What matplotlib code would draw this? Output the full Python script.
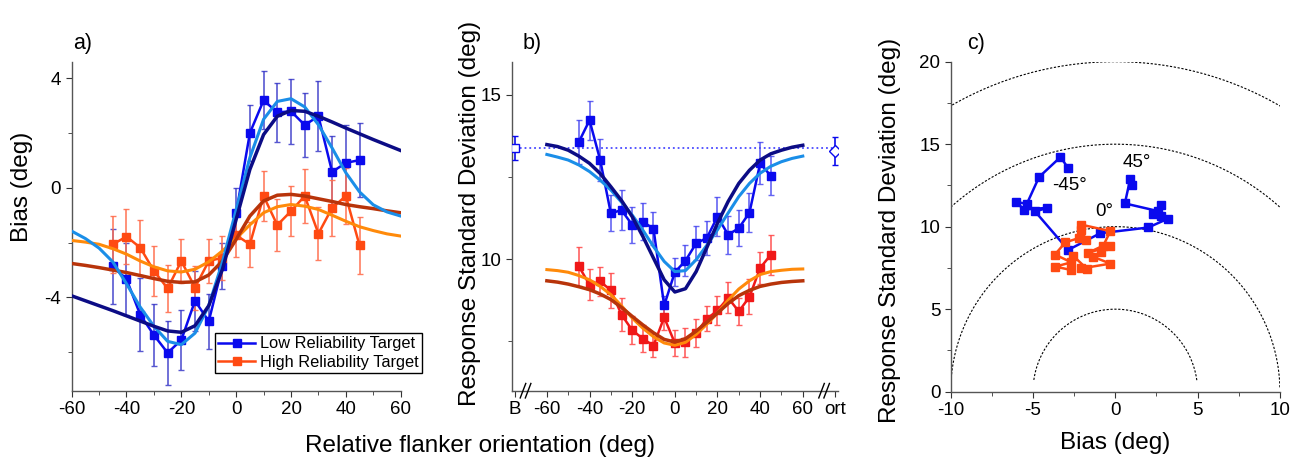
import numpy as np
import matplotlib
matplotlib.use("Agg")
import matplotlib.pyplot as plt
from matplotlib.ticker import MultipleLocator, FixedLocator
import matplotlib.transforms as mtransforms

plt.rcParams['font.family'] = ['Liberation Sans', 'DejaVu Sans']
plt.rcParams['axes.unicode_minus'] = False

# ---- data ----
orient = [-45, -40, -35, -30, -25, -20, -15, -10, -5, 0, 5, 10, 15, 20, 25, 30, 35, 40, 45]

bias_low = [-2.87, -3.33, -4.63, -5.37, -6.02, -5.55, -4.12, -4.87, -2.86, -0.92,
            2.00, 3.19, 2.75, 2.79, 2.29, 2.61, 0.58, 0.91, 1.01]
bias_low_err = [1.37, 1.3, 1.33, 1.14, 1.17, 1.1, 1.1, 1.0, 0.84, 0.9,
                1.03, 1.06, 1.08, 1.18, 1.15, 1.27, 1.3, 1.37, 1.34]
bias_high = [-2.06, -1.78, -2.18, -3.03, -3.67, -2.67, -3.64, -2.67, -2.55, -1.73,
             -2.06, -0.30, -1.36, -0.85, -0.30, -1.67, -0.73, -0.30, -2.10]
bias_high_err = [1.04, 1.0, 1.0, 0.92, 0.85, 0.82, 0.8, 0.8, 0.8, 0.8,
                 0.82, 0.9, 0.94, 0.9, 1.0, 0.98, 1.03, 1.03, 1.03]

sd_low = [13.56, 14.22, 13.01, 11.39, 11.49, 11.04, 11.14, 10.92, 8.59, 9.60,
          9.95, 10.48, 10.64, 11.29, 10.74, 10.94, 11.41, 12.91, 12.53]
sd_low_err = [0.67, 0.6, 0.65, 0.55, 0.6, 0.55, 0.57, 0.5, 0.3, 0.43,
              0.47, 0.52, 0.53, 0.6, 0.58, 0.55, 0.59, 0.64, 0.59]
sd_high = [9.78, 9.22, 9.32, 9.05, 8.31, 7.84, 7.58, 7.37, 8.23, 7.45,
           7.47, 7.76, 8.18, 8.44, 8.82, 8.41, 8.85, 9.73, 10.13]
sd_high_err = [0.6, 0.47, 0.45, 0.53, 0.5, 0.42, 0.41, 0.35, 0.38, 0.39,
               0.44, 0.43, 0.38, 0.44, 0.47, 0.41, 0.53, 0.5, 0.6]

# baseline (B) and orthogonal (ort) conditions
sd_base, sd_base_err = 13.38, 0.36
sd_ort, sd_ort_err = 13.29, 0.43

# model fits
fit_x = [-60, -55, -50, -45, -40, -35, -30, -25, -20, -15, -10, -5, 0,
         5, 10, 15, 20, 25, 30, 35, 40, 45, 50, 55, 60]
fitA_low_dark = [-3.94, -4.12, -4.30, -4.48, -4.67, -4.86, -5.05, -5.22, -5.27, -5.03, -4.30, -2.97, -1.15,
                 0.67, 1.94, 2.61, 2.82, 2.79, 2.61, 2.40, 2.18, 1.97, 1.76, 1.56, 1.36]
fitA_low_light = [-1.58, -1.85, -2.2, -2.7, -3.5, -4.35, -5.05, -5.6, -5.72, -5.3, -4.3, -2.7, -0.8,
                  1.1, 2.5, 3.15, 3.25, 2.95, 2.3, 1.45, 0.55, -0.15, -0.62, -0.88, -1.03]
fitA_high_dark = [-2.76, -2.83, -2.91, -3.0, -3.09, -3.2, -3.31, -3.41, -3.45, -3.43, -3.18, -2.67, -1.88,
                  -1.03, -0.48, -0.27, -0.24, -0.3, -0.4, -0.5, -0.61, -0.69, -0.76, -0.84, -0.91]
fitA_high_light = [-1.92, -1.98, -2.06, -2.22, -2.42, -2.67, -2.88, -3.03, -3.07, -2.97, -2.7, -2.3, -1.85,
                   -1.35, -0.91, -0.69, -0.61, -0.67, -0.79, -1.0, -1.22, -1.42, -1.56, -1.68, -1.76]

fitB_low_dark = [13.48, 13.42, 13.31, 13.13, 12.91, 12.6, 12.2, 11.78, 11.29, 10.69, 10.03, 9.37, 9.0,
                 9.1, 9.62, 10.35, 11.09, 11.75, 12.3, 12.7, 13.01, 13.2, 13.31, 13.4, 13.46]
fitB_low_light = [13.18, 13.1, 13.01, 12.86, 12.66, 12.4, 12.1, 11.73, 11.34, 10.88, 10.38, 9.93, 9.62,
                  9.65, 9.98, 10.42, 10.89, 11.4, 11.9, 12.3, 12.61, 12.82, 12.96, 13.06, 13.13]
fitB_high_dark = [9.34, 9.3, 9.24, 9.16, 9.07, 8.94, 8.77, 8.53, 8.26, 8.0, 7.76, 7.56, 7.48,
                  7.58, 7.81, 8.08, 8.36, 8.65, 8.89, 9.05, 9.17, 9.24, 9.29, 9.32, 9.34]
fitB_high_light = [9.68, 9.65, 9.6, 9.5, 9.37, 9.17, 8.92, 8.58, 8.21, 7.9, 7.64, 7.45, 7.38,
                   7.47, 7.71, 8.02, 8.36, 8.75, 9.09, 9.34, 9.53, 9.62, 9.66, 9.69, 9.7]

ring_radii = [5, 10, 15, 20]

# ---- style ----
c_low = '#0a0aee'
c_high = '#ff4a12'
c_red = '#f01818'
c_navy = '#0c0c85'
c_sky = '#1a8ee8'
c_brown = '#b8340a'
c_orange = '#ff8a0a'
fs_tick = 13.5
fs_lab = 17.5
W, H = 1303.0, 461.0

fig = plt.figure(figsize=(13.03, 4.61), dpi=100)
axA = fig.add_axes([0.055, 0.1525, 0.2525, 0.7137])
axB = fig.add_axes([0.3927, 0.1525, 0.2504, 0.7137])
axC = fig.add_axes([0.7296, 0.1504, 0.2527, 0.7158])

for ax in (axA, axB, axC):
    ax.spines['top'].set_visible(False)
    ax.spines['right'].set_visible(False)
    for s in ('left', 'bottom'):
        ax.spines[s].set_color('#555555')
        ax.spines[s].set_linewidth(1.0)
    ax.tick_params(which='both', direction='out', labelsize=fs_tick, color='#333333')
    ax.tick_params(which='major', length=4)
    ax.tick_params(which='minor', length=3)

# ---- panel a ----
axA.errorbar(orient, bias_low, yerr=bias_low_err, fmt='none', ecolor='#3a3ac8',
             elinewidth=1.2, capsize=2, alpha=0.85, zorder=2)
axA.errorbar(orient, bias_high, yerr=bias_high_err, fmt='none', ecolor='#ff7050',
             elinewidth=1.2, capsize=2, alpha=0.9, zorder=2)
axA.plot(orient, bias_low, '-s', color=c_low, lw=1.8, ms=6, zorder=3,
         label='Low Reliability Target')
axA.plot(orient, bias_high, '-s', color=c_high, lw=1.8, ms=6, zorder=3,
         label='High Reliability Target')
axA.plot(fit_x, fitA_high_light, color=c_orange, lw=2.2, zorder=4)
axA.plot(fit_x, fitA_high_dark, color=c_brown, lw=2.5, zorder=4)
axA.plot(fit_x, fitA_low_light, color=c_sky, lw=2.2, zorder=4)
axA.plot(fit_x, fitA_low_dark, color=c_navy, lw=2.5, zorder=4)
axA.set_xlim(-60, 60)
axA.set_ylim(-7.4, 4.6)
axA.xaxis.set_major_locator(MultipleLocator(20))
axA.xaxis.set_minor_locator(MultipleLocator(10))
axA.yaxis.set_major_locator(MultipleLocator(4))
axA.yaxis.set_minor_locator(MultipleLocator(2))
leg = axA.legend(loc='lower right', bbox_to_anchor=(422 / W, 1 - 373 / H),
                 bbox_transform=fig.transFigure, fontsize=11.8,
                 frameon=True, fancybox=False, edgecolor='black', framealpha=1,
                 handlelength=2.25, borderpad=0.2, labelspacing=0.2, handletextpad=0.3,
                 borderaxespad=0.0)
leg.get_frame().set_linewidth(1.0)
leg.set_zorder(10)

# ---- panel b ----
B_pos, ort_pos = -75, 75
axB.plot([B_pos, ort_pos], [sd_base, sd_base], ':', color='#4a4aff', lw=1.3, zorder=1)
axB.errorbar([B_pos], [sd_base], yerr=[sd_base_err], fmt='s', mfc='white', mec=c_low,
             ecolor=c_low, ms=6, capsize=2, elinewidth=1.2, zorder=3)
axB.errorbar([ort_pos], [sd_ort], yerr=[sd_ort_err], fmt='D', mfc='white', mec=c_low,
             ecolor=c_low, ms=6, capsize=2, elinewidth=1.2, zorder=3)
axB.errorbar(orient, sd_low, yerr=sd_low_err, fmt='none', ecolor='#4a4af0',
             elinewidth=1.2, capsize=2, alpha=0.85, zorder=2)
axB.errorbar(orient, sd_high, yerr=sd_high_err, fmt='none', ecolor='#ff5050',
             elinewidth=1.2, capsize=2, alpha=0.9, zorder=2)
axB.plot(orient, sd_low, '-s', color=c_low, lw=1.8, ms=6, zorder=3)
axB.plot(orient, sd_high, '-s', color=c_red, lw=1.8, ms=6, zorder=3)
axB.plot(fit_x, fitB_high_light, color=c_orange, lw=2.2, zorder=4)
axB.plot(fit_x, fitB_high_dark, color=c_brown, lw=2.5, zorder=4)
axB.plot(fit_x, fitB_low_light, color=c_sky, lw=2.2, zorder=4)
axB.plot(fit_x, fitB_low_dark, color=c_navy, lw=2.5, zorder=4)
axB.set_xlim(-76.5, 76.5)
axB.set_ylim(6, 16)
axB.xaxis.set_major_locator(FixedLocator([B_pos, -60, -40, -20, 0, 20, 40, 60, ort_pos]))
axB.set_xticklabels(['B', '-60', '-40', '-20', '0', '20', '40', '60', 'ort'])
axB.xaxis.set_minor_locator(FixedLocator([-50, -30, -10, 10, 30, 50]))
axB.yaxis.set_major_locator(MultipleLocator(5))
axB.yaxis.set_minor_locator(MultipleLocator(2.5))
trans = mtransforms.blended_transform_factory(axB.transData, axB.transAxes)
for xb in (-70, 70):
    for dx in (-1.2, 1.2):
        axB.plot([xb + dx - 1.3, xb + dx + 1.3], [-0.022, 0.022], color='black', lw=1.0,
                 transform=trans, clip_on=False, zorder=5)

# ---- panel c ----
for r in ring_radii:
    a0 = 8 if r == 5 else 1.5
    th = np.radians(np.linspace(a0, 180 - a0, 200))
    axC.plot(r * np.cos(th), r * np.sin(th), color='black', lw=0.8,
             ls=(0, (2, 1.5)), zorder=1)
axC.plot(bias_low, sd_low, '-s', color=c_low, lw=1.8, ms=6, zorder=3)
axC.plot(bias_high, sd_high, '-s', color=c_high, lw=1.8, ms=6, zorder=3)
axC.text(-2.8, 12.5, '-45°', fontsize=fs_tick, ha='center', va='center')
axC.text(1.3, 13.9, '45°', fontsize=fs_tick, ha='center', va='center')
axC.text(-0.65, 10.9, '0°', fontsize=fs_tick, ha='center', va='center')
axC.set_xlim(-10, 10)
axC.set_ylim(0, 20)
axC.xaxis.set_major_locator(MultipleLocator(5))
axC.xaxis.set_minor_locator(MultipleLocator(2.5))
axC.yaxis.set_major_locator(MultipleLocator(5))
axC.yaxis.set_minor_locator(MultipleLocator(2.5))

# ---- labels (placed in figure pixels) ----
fig.text(22 / W, 1 - 187 / H, 'Bias (deg)', fontsize=fs_lab, rotation=90,
         ha='center', va='center')
fig.text(470 / W, 1 - 213 / H, 'Response Standard Deviation (deg)', fontsize=fs_lab,
         rotation=90, ha='center', va='center')
fig.text(890 / W, 1 - 230 / H, 'Response Standard Deviation (deg)', fontsize=fs_lab,
         rotation=90, ha='center', va='center')
fig.text(480 / W, 1 - 446 / H, 'Relative flanker orientation (deg)', fontsize=fs_lab,
         ha='center', va='center')
fig.text(1115 / W, 1 - 443 / H, 'Bias (deg)', fontsize=fs_lab, ha='center', va='center')
for lbl, xl in (('a)', 72.7), ('b)', 522.7), ('c)', 966.7)):
    fig.text(xl / W, 1 - 44 / H, lbl, fontsize=15.5, ha='left', va='center')

fig.savefig('out.png', dpi=100)
